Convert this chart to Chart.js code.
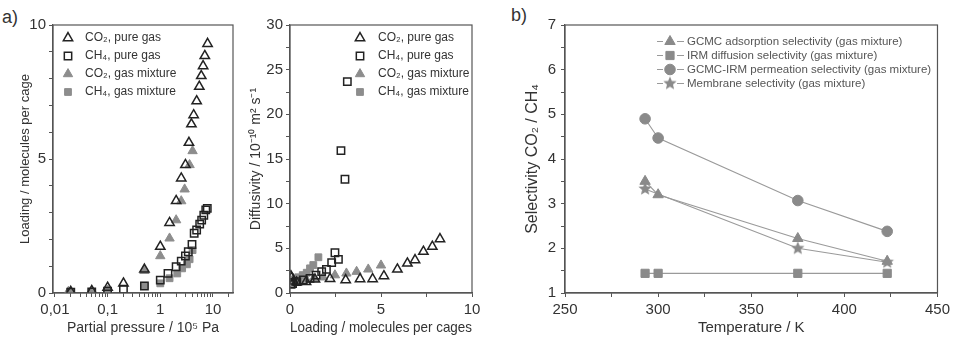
<!DOCTYPE html>
<html>
<head>
<meta charset="utf-8">
<script src="https://cdn.jsdelivr.net/npm/chart.js@4.4.1/dist/chart.umd.min.js"></script>
<style>
  html, body { margin: 0; padding: 0; background: #fff; }
  body { width: 954px; height: 337px; position: relative; overflow: hidden; font-family: "Liberation Sans", Arial, sans-serif; }
  .panel { position: absolute; top: 0; height: 337px; }
  .tag { position: absolute; font-size: 18px; color: #333; }
</style>
</head>
<body>
<div class="tag" style="left:2px;top:7px">a)</div>
<div class="tag" style="left:511px;top:5px">b)</div>
<div class="panel" style="left:0;width:250px"><canvas id="loadingChart"></canvas></div>
<div class="panel" style="left:240px;width:252px"><canvas id="diffusivityChart"></canvas></div>
<div class="panel" style="left:500px;width:454px"><canvas id="selectivityChart"></canvas></div>
<script>
// panel a) loading vs partial pressure (10^5 Pa)
const co2PurePressure = [0.02, 0.05, 0.1, 0.2, 0.5, 1.0, 1.5, 2.0, 2.5, 3.0, 3.5, 3.9, 4.3, 4.9, 5.5, 6.0, 6.5, 7.0, 7.9];
const co2PureLoading  = [0.05, 0.08, 0.2, 0.36, 0.88, 1.73, 2.62, 3.44, 4.28, 4.78, 5.61, 6.3, 6.64, 7.16, 7.7, 8.1, 8.47, 8.85, 9.3];
const ch4PurePressure = [0.02, 0.05, 0.1, 0.2, 0.5, 1.0, 1.4, 2.0, 2.5, 3.0, 3.4, 4.0, 4.4, 4.9, 5.6, 6.1, 6.7, 7.3, 7.8];
const ch4PureLoading  = [0.03, 0.04, 0.07, 0.14, 0.26, 0.48, 0.73, 0.98, 1.19, 1.38, 1.54, 1.81, 2.23, 2.35, 2.57, 2.72, 2.9, 3.1, 3.16];
const co2MixPressure  = [0.018, 0.05, 0.1, 0.5, 1.0, 1.5, 2.0, 2.5, 2.9, 3.6, 4.1];
const co2MixLoading   = [0.05, 0.05, 0.1, 0.83, 1.38, 2.04, 2.72, 3.43, 3.87, 4.78, 5.3];
const ch4MixPressure  = [0.02, 0.05, 0.1, 0.5, 1.0, 1.5, 2.1, 2.6, 3.2, 3.6, 4.1];
const ch4MixLoading   = [0.03, 0.03, 0.05, 0.27, 0.36, 0.55, 0.73, 0.92, 1.07, 1.26, 1.6];
const pressureLabels  = [0.01, 0.1, 1, 10];

// panel a) diffusivity (10^-10 m2/s) vs loading
const co2PureLoadB = [0.05, 0.08, 0.2, 0.36, 0.88, 1.37, 2.2, 3.06, 3.85, 4.54, 5.16, 5.9, 6.45, 6.87, 7.33, 7.82, 8.24];
const co2PureDiff  = [1.9, 1.7, 1.3, 1.2, 1.25, 1.53, 1.6, 1.46, 1.57, 1.57, 1.9, 2.65, 3.32, 3.7, 4.63, 5.19, 6.05];
const ch4PureLoadB = [0.04, 0.07, 0.14, 0.37, 0.73, 1.1, 1.43, 1.74, 2.0, 2.29, 2.47, 2.66, 2.8, 3.02, 3.15];
const ch4PureDiff  = [1.0, 1.0, 1.05, 1.27, 1.46, 1.64, 2.0, 2.39, 2.65, 3.4, 4.51, 3.77, 15.93, 12.73, 23.66];
const co2MixLoadB  = [0.2, 0.5, 0.9, 1.3, 1.82, 2.47, 3.1, 3.66, 4.3, 5.0];
const co2MixDiff   = [1.6, 1.5, 1.5, 1.6, 1.76, 2.0, 2.2, 2.39, 2.65, 3.1];
const ch4MixLoadB  = [0.15, 0.27, 0.46, 0.7, 0.92, 1.1, 1.28, 1.56];
const ch4MixDiff   = [1.46, 1.53, 1.76, 2.0, 2.27, 2.76, 3.13, 4.0];

// panel b) selectivity vs temperature
const temps = [293, 300, 375, 423];
const adsorptionSel = [3.5, 3.2, 2.22, 1.71];
const diffusionSel = [1.44, 1.44, 1.44, 1.44];
const permeationSel = [4.9, 4.47, 3.07, 2.38];
const membraneTemps = [293, 375, 423];
const membraneSel = [3.33, 2.0, 1.69];

const FONT = '"Liberation Sans", Arial, sans-serif';
Chart.defaults.font.family = FONT;
Chart.defaults.color = '#333';

const pts = (xs, ys) => xs.map((x, i) => ({ x: x, y: ys[i] }));

function openSet(label, style, xs, ys) {
  return { label, data: pts(xs, ys), pointStyle: style, pointRadius: style === 'rect' ? 5.2 : 5.4,
    pointBackgroundColor: 'rgba(0,0,0,0)', pointBorderColor: '#222', pointBorderWidth: 1.5 };
}
function graySet(label, style, xs, ys) {
  return { label, data: pts(xs, ys), pointStyle: style, pointRadius: style === 'rect' ? 4.8 : 5.4,
    pointBackgroundColor: '#8d8d8d', pointBorderColor: '#8d8d8d', pointBorderWidth: 1 };
}

function makeStar(r, color) {
  const c = document.createElement('canvas');
  c.width = c.height = 2 * r + 2;
  const g = c.getContext('2d');
  g.fillStyle = color;
  g.beginPath();
  for (let k = 0; k < 10; k++) {
    const rad = k % 2 ? r * 0.45 : r;
    const ang = -Math.PI / 2 + k * Math.PI / 5;
    g.lineTo(r + 1 + rad * Math.cos(ang), r + 1 + rad * Math.sin(ang));
  }
  g.closePath();
  g.fill();
  return c;
}

const framePlugin = {
  id: 'frame',
  afterDraw(chart) {
    const { ctx, chartArea: a } = chart;
    ctx.save();
    ctx.strokeStyle = '#555';
    ctx.lineWidth = 1.2;
    ctx.strokeRect(a.left, a.top, a.right - a.left, a.bottom - a.top);
    ctx.restore();
  }
};

const innerLegend = {
  id: 'innerLegend',
  afterDraw(chart, args, opts) {
    const { ctx, chartArea } = chart;
    ctx.save();
    ctx.font = opts.size + 'px ' + FONT;
    ctx.textBaseline = 'middle';
    chart.data.datasets.forEach((ds, i) => {
      const y = chartArea.top + opts.top + i * opts.row;
      const mx = chartArea.left + opts.marker;
      if (opts.lines) {
        ctx.strokeStyle = ds.borderColor;
        ctx.lineWidth = 1;
        ctx.beginPath();
        ctx.moveTo(mx - 13, y); ctx.lineTo(mx - 7, y);
        ctx.moveTo(mx + 7, y); ctx.lineTo(mx + 14, y);
        ctx.stroke();
      }
      ctx.fillStyle = ds.pointBackgroundColor;
      ctx.strokeStyle = ds.pointBorderColor;
      ctx.lineWidth = ds.pointBorderWidth;
      Chart.helpers.drawPoint(ctx, { pointStyle: ds.pointStyle, radius: ds.pointRadius, borderWidth: ds.pointBorderWidth, rotation: 0 }, mx, y);
      ctx.fillStyle = opts.color;
      ctx.fillText(ds.label, chartArea.left + opts.text, y);
    });
    ctx.restore();
  }
};

function axis(opts) {
  return Object.assign({
    grid: { display: true, drawOnChartArea: false, drawTicks: true, tickLength: 4, color: '#555', lineWidth: 1 },
    border: { color: '#555', width: 1.2 },
  }, opts);
}
const tickFont = { size: 15 };

function baseOptions(padding, legendOpts, scales) {
  return {
    animation: false, events: [], responsive: true, maintainAspectRatio: false,
    layout: { padding },
    plugins: { legend: { display: false }, tooltip: { enabled: false }, innerLegend: legendOpts },
    scales
  };
}

// ---- panel a, left: loading isotherms
new Chart(document.getElementById('loadingChart'), {
  type: 'scatter',
  data: { datasets: [
    openSet('CO₂, pure gas', 'triangle', co2PurePressure, co2PureLoading),
    openSet('CH₄, pure gas', 'rect', ch4PurePressure, ch4PureLoading),
    graySet('CO₂, gas mixture', 'triangle', co2MixPressure, co2MixLoading),
    graySet('CH₄, gas mixture', 'rect', ch4MixPressure, ch4MixLoading)
  ]},
  options: baseOptions({ left: 0, right: 17, top: 25, bottom: 0 },
    { top: 13, row: 18, marker: 15, text: 32, color: '#333', size: 12 },
    {
      x: axis({
        type: 'logarithmic', min: 0.0092, max: 24,
        afterBuildTicks(s) {
          const t = [];
          pressureLabels.forEach(p => { for (let m = 1; m <= 9; m++) if (p * m <= 20) t.push(p * m); });
          s.ticks = t.map(v => ({ value: v }));
        },
        afterFit(s) { s.height = 44; },
        ticks: { font: tickFont, padding: 4, autoSkip: false, maxRotation: 0,
          callback: v => pressureLabels.includes(+v.toPrecision(3)) ? String(+v.toPrecision(3)).replace('.', ',') : '' },
        title: { display: true, text: 'Partial pressure / 10⁵ Pa', font: { size: 14 }, padding: { top: 0, bottom: 0 } }
      }),
      y: axis({
        min: 0, max: 10,
        afterFit(s) { s.width = 53; },
        ticks: { font: tickFont, padding: 3, stepSize: 1, callback: v => v % 5 === 0 ? v : '' },
        title: { display: true, text: 'Loading / molecules per cage', font: { size: 13 }, padding: { top: 17.5, bottom: 0 } }
      })
    }),
  plugins: [framePlugin, innerLegend]
});

// ---- panel a, right: diffusivities
new Chart(document.getElementById('diffusivityChart'), {
  type: 'scatter',
  data: { datasets: [
    openSet('CO₂, pure gas', 'triangle', co2PureLoadB, co2PureDiff),
    openSet('CH₄, pure gas', 'rect', ch4PureLoadB, ch4PureDiff),
    graySet('CO₂, gas mixture', 'triangle', co2MixLoadB, co2MixDiff),
    graySet('CH₄, gas mixture', 'rect', ch4MixLoadB, ch4MixDiff)
  ]},
  options: baseOptions({ left: 0, right: 20, top: 25, bottom: 0 },
    { top: 13, row: 18, marker: 70, text: 88, color: '#333', size: 12 },
    {
      x: axis({
        min: 0, max: 10,
        afterFit(s) { s.height = 44; },
        ticks: { font: tickFont, padding: 4, stepSize: 2.5, autoSkip: false, maxRotation: 0, callback: v => v % 5 === 0 ? v : '' },
        title: { display: true, text: 'Loading / molecules per cages', font: { size: 14.5 }, padding: { top: 0, bottom: 0 } }
      }),
      y: axis({
        min: 0, max: 30,
        afterFit(s) { s.width = 50; },
        ticks: { font: tickFont, padding: 3, stepSize: 2.5, callback: v => v % 5 === 0 ? v : '' },
        title: { display: true, text: 'Diffusivity / 10⁻¹⁰ m² s⁻¹', font: { size: 14 }, padding: { top: 7.6, bottom: 0 } }
      })
    }),
  plugins: [framePlugin, innerLegend]
});

// ---- panel b: selectivities
const lineGray = '#9a9a9a';
const markGray = '#8a8a8a';
function selSet(label, style, radius, xs, ys) {
  return { label, data: pts(xs, ys), showLine: true, borderColor: lineGray, borderWidth: 1.1,
    pointStyle: style, pointRadius: radius, pointBackgroundColor: markGray, pointBorderColor: markGray, pointBorderWidth: 1 };
}
new Chart(document.getElementById('selectivityChart'), {
  type: 'scatter',
  data: { datasets: [
    selSet('GCMC adsorption selectivity (gas mixture)', 'triangle', 6, temps, adsorptionSel),
    selSet('IRM diffusion selectivity (gas mixture)', 'rect', 5.8, temps, diffusionSel),
    selSet('GCMC-IRM permeation selectivity (gas mixture)', 'circle', 5.3, temps, permeationSel),
    selSet('Membrane selectivity (gas mixture)', makeStar(7, markGray), 6, membraneTemps, membraneSel)
  ]},
  options: baseOptions({ left: 0, right: 12, top: 25, bottom: 0 },
    { top: 16.5, row: 14, marker: 105, text: 122, color: '#555', lines: true, size: 11.5 },
    {
      x: axis({
        min: 250, max: 450,
        afterFit(s) { s.height = 44; },
        ticks: { font: tickFont, padding: 4, stepSize: 25, autoSkip: false, maxRotation: 0, callback: v => v % 50 === 0 ? v : '' },
        title: { display: true, text: 'Temperature / K', font: { size: 15 }, padding: { top: 0, bottom: 0 } }
      }),
      y: axis({
        min: 1, max: 7,
        afterFit(s) { s.width = 65; },
        ticks: { font: tickFont, padding: 5, stepSize: 0.5, callback: v => Number.isInteger(v) ? v : '' },
        title: { display: true, text: 'Selectivity CO₂ / CH₄', font: { size: 16 }, padding: { top: 22.5, bottom: 0 } }
      })
    }),
  plugins: [framePlugin, innerLegend]
});
</script>
</body>
</html>
